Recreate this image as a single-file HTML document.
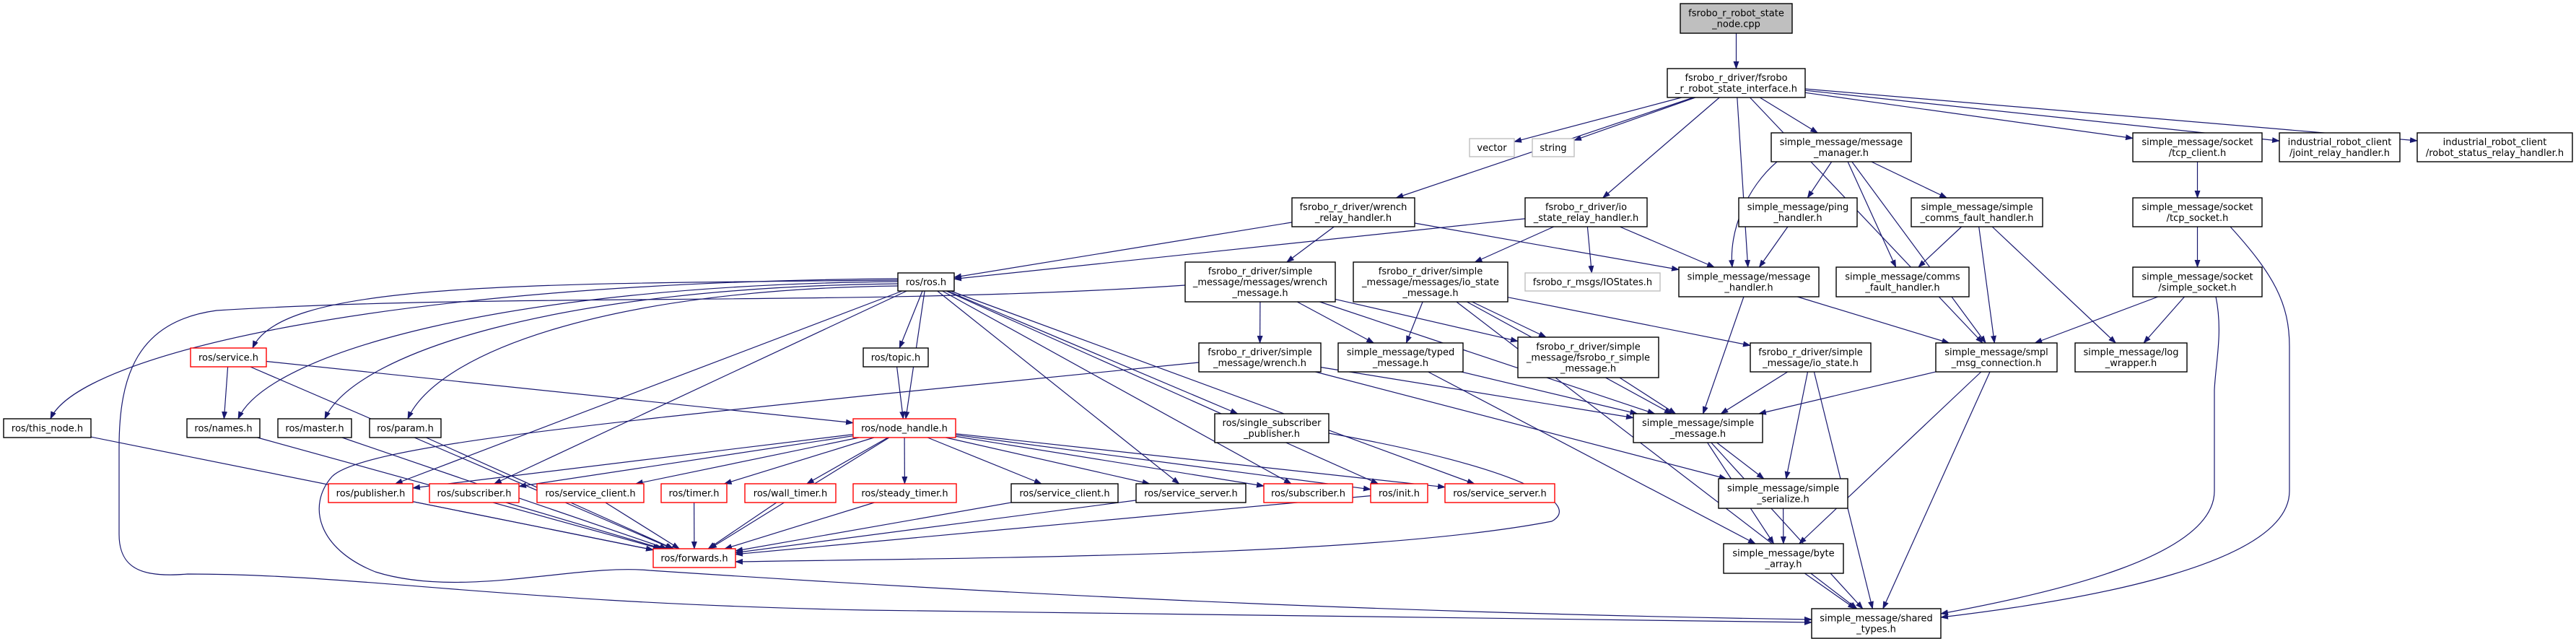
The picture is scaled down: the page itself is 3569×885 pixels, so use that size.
<!DOCTYPE html>
<html><head><meta charset="utf-8"><style>
html,body{margin:0;padding:0;background:#fff;}
svg{display:block;}
text{font-family:"DejaVu Sans","Liberation Sans",sans-serif;font-size:13px;fill:#000;text-anchor:middle;}
.n{fill:#fff;stroke:#000;stroke-width:1.4;}
.r{fill:#fff;stroke:#ff0000;stroke-width:1.4;}
.g{fill:#fff;stroke:#bfbfbf;stroke-width:1.4;}
.c{fill:#bfbfbf;stroke:#000;stroke-width:1.4;}
.e{fill:none;stroke:#191970;stroke-width:1.2;}
</style></head><body>
<svg id="s" width="3569" height="885" viewBox="0 0 3569 885" xmlns="http://www.w3.org/2000/svg">
<defs><marker id="a" markerUnits="userSpaceOnUse" markerWidth="11" markerHeight="8" refX="10" refY="4" orient="auto"><path d="M0,0 L11,4 L0,8 z" fill="#191970"/></marker></defs>
<g id="edges"></g>
<g id="nodes"></g>
</svg>
<script>
var N={
cpp:[2328,5,2483,46,'c',["fsrobo_r_robot_state","_node.cpp"]],
iface:[2310,95,2501,135,'n',["fsrobo_r_driver/fsrobo","_r_robot_state_interface.h"]],
vector:[2036,192,2098,217,'g',["vector"]],
string:[2123,192,2181,217,'g',["string"]],
wrr:[1790,274,1960,314,'n',["fsrobo_r_driver/wrench","_relay_handler.h"]],
iorr:[2113,274,2282,314,'n',["fsrobo_r_driver/io","_state_relay_handler.h"]],
ros:[1244,378,1322,403,'n',["ros/ros.h"]],
wrm:[1642,363,1850,418,'n',["fsrobo_r_driver/simple","_message/messages/wrench","_message.h"]],
iom:[1875,363,2089,418,'n',["fsrobo_r_driver/simple","_message/messages/io_state","_message.h"]],
iost:[2113,378,2300,403,'g',["fsrobo_r_msgs/IOStates.h"]],
mh:[2326,370,2520,411,'n',["simple_message/message","_handler.h"]],
mm:[2454,184,2648,224,'n',["simple_message/message","_manager.h"]],
ping:[2409,274,2573,314,'n',["simple_message/ping","_handler.h"]],
scf:[2648,274,2830,314,'n',["simple_message/simple","_comms_fault_handler.h"]],
cf:[2544,370,2728,411,'n',["simple_message/comms","_fault_handler.h"]],
tcpc:[2955,184,3134,224,'n',["simple_message/socket","/tcp_client.h"]],
jrh:[3158,184,3325,224,'n',["industrial_robot_client","/joint_relay_handler.h"]],
rsrh:[3349,184,3564,224,'n',["industrial_robot_client","/robot_status_relay_handler.h"]],
tcps:[2955,274,3134,314,'n',["simple_message/socket","/tcp_socket.h"]],
ssock:[2955,370,3134,411,'n',["simple_message/socket","/simple_socket.h"]],
thisn:[5,580,126,606,'n',["ros/this_node.h"]],
svc:[264,482,369,508,'r',["ros/service.h"]],
names:[259,580,360,606,'n',["ros/names.h"]],
master:[385,580,487,606,'n',["ros/master.h"]],
param:[512,580,611,606,'n',["ros/param.h"]],
pub:[455,670,572,696,'r',["ros/publisher.h"]],
sub1:[595,670,719,696,'r',["ros/subscriber.h"]],
scl1:[744,670,892,696,'r',["ros/service_client.h"]],
timer:[916,670,1007,696,'r',["ros/timer.h"]],
wtimer:[1032,670,1158,696,'r',["ros/wall_timer.h"]],
stimer:[1182,670,1325,696,'r',["ros/steady_timer.h"]],
fwd:[905,760,1019,786,'r',["ros/forwards.h"]],
nh:[1182,580,1324,606,'r',["ros/node_handle.h"]],
topic:[1196,482,1286,508,'n',["ros/topic.h"]],
wrh:[1661,475,1830,515,'n',["fsrobo_r_driver/simple","_message/wrench.h"]],
typed:[1854,475,2027,515,'n',["simple_message/typed","_message.h"]],
frsm:[2103,467,2298,523,'n',["fsrobo_r_driver/simple","_message/fsrobo_r_simple","_message.h"]],
ssp:[1683,573,1841,613,'n',["ros/single_subscriber","_publisher.h"]],
smsg:[2263,573,2442,613,'n',["simple_message/simple","_message.h"]],
scl2:[1401,670,1549,696,'n',["ros/service_client.h"]],
ssv1:[1574,670,1726,696,'n',["ros/service_server.h"]],
sub2:[1751,670,1874,696,'r',["ros/subscriber.h"]],
init:[1899,670,1978,696,'r',["ros/init.h"]],
ssv2:[2002,670,2154,696,'r',["ros/service_server.h"]],
iostate:[2425,475,2592,515,'n',["fsrobo_r_driver/simple","_message/io_state.h"]],
smc:[2682,475,2850,515,'n',["simple_message/smpl","_msg_connection.h"]],
logw:[2875,475,3030,515,'n',["simple_message/log","_wrapper.h"]],
ser:[2381,663,2560,704,'n',["simple_message/simple","_serialize.h"]],
byte:[2388,753,2554,794,'n',["simple_message/byte","_array.h"]],
shared:[2510,843,2689,884,'n',["simple_message/shared","_types.h"]]
};
var E="cpp-iface iface-vector iface-string iface-wrr iface-iorr iface-mh iface-mm iface-smc iface-tcpc iface-jrh iface-rsrh wrr-ros wrr-wrm wrr-mh iorr-ros iorr-iom iorr-iost iorr-mh mm-ping mm-cf mm-scf mm-smc ping-mh scf-cf scf-smc scf-logw mh-smsg mh-smc tcpc-tcps tcps-ssock ssock-smc ssock-logw ros-pub ros-sub1 ros-topic ros-nh ros-ssv1 ros-sub2 ros-init ros-ssv2 ros-ssp svc-names svc-fwd svc-nh topic-nh thisn-fwd names-fwd master-fwd param-fwd nh-pub nh-sub1 nh-scl1 nh-timer nh-wtimer nh-stimer nh-fwd nh-scl2 nh-ssv1 nh-sub2 nh-init nh-ssv2 pub-fwd sub1-fwd scl1-fwd timer-fwd wtimer-fwd stimer-fwd scl2-fwd ssv1-fwd init-fwd wrm-wrh wrm-smsg wrm-typed wrm-frsm iom-typed iom-frsm iom-iostate iom-smsg iom-shared wrh-smsg wrh-ser typed-smsg typed-byte frsm-smsg iostate-smsg iostate-ser iostate-shared smsg-ser smsg-byte smsg-shared smc-smsg smc-byte smc-shared ser-byte byte-shared".split(" ");
var NS="http://www.w3.org/2000/svg";
var eg=document.getElementById("edges"),ng=document.getElementById("nodes");
function mk(t,a,p){var e=document.createElementNS(NS,t);for(var k in a)e.setAttribute(k,a[k]);p.appendChild(e);return e;}
function ctr(n){return [(n[0]+n[2])/2,(n[1]+n[3])/2];}
function clip(n,c,d){var hw=(n[2]-n[0])/2,hh=(n[3]-n[1])/2;var t=Math.min(Math.abs(d[0])>1e-6?hw/Math.abs(d[0]):1e9,Math.abs(d[1])>1e-6?hh/Math.abs(d[1]):1e9);return [c[0]+d[0]*t,c[1]+d[1]*t];}
function path(d){mk("path",{d:d,"class":"e","marker-end":"url(#a)"},eg);}
E.forEach(function(s){var p=s.split("-"),a=N[p[0]],b=N[p[1]];var ca=ctr(a),cb=ctr(b);var d=[cb[0]-ca[0],cb[1]-ca[1]];var p1=clip(a,ca,d),p2=clip(b,cb,[-d[0],-d[1]]);path("M"+p1[0].toFixed(1)+","+p1[1].toFixed(1)+" L"+p2[0].toFixed(1)+","+p2[1].toFixed(1));});
[["thisn",70,580,386],["svc",350,482,388],["names",330,580,390],["master",450,580,393],["param",565,580,396]].forEach(function(q){var sx=1244,sy=q[3],tx=q[1],ty=q[2];path("M"+sx+","+sy+" C"+(sx-(sx-tx)*0.6)+","+(sy+5)+" "+(tx+40)+","+(ty-90)+" "+tx+","+ty);});
path("M1642,395 C1200,425 700,405 300,430 C190,445 165,520 165,620 L165,740 C165,790 200,800 260,795 C500,795 700,835 1200,845 C1800,855 2200,858 2510,862");
path("M1661,502 L1200,548 C800,590 500,620 460,660 C425,700 440,760 520,792 C640,830 800,780 900,790 C1500,830 2000,850 2510,858");
path("M1841,600 C2120,650 2190,700 2150,722 C1900,770 1400,772 1019,778");
path("M2462,224 C2420,260 2395,320 2400,370");
path("M3090,314 C3150,380 3172,420 3172,480 L3172,680 C3172,780 2900,830 2689,855");
path("M3070,411 C3080,460 3070,500 3068,540 L3068,680 C3068,770 2850,820 2689,850");
for(var k in N){var n=N[k];mk("rect",{x:n[0],y:n[1],width:n[2]-n[0],height:n[3]-n[1],"class":n[4]},ng);var L=n[5],cy=(n[1]+n[3])/2,b0=cy-(L.length-1)*7.5+4.5;L.forEach(function(t,i){var e=mk("text",{x:(n[0]+n[2])/2,y:(b0+i*15).toFixed(1)},ng);e.textContent=t;});}
</script>
</body></html>
